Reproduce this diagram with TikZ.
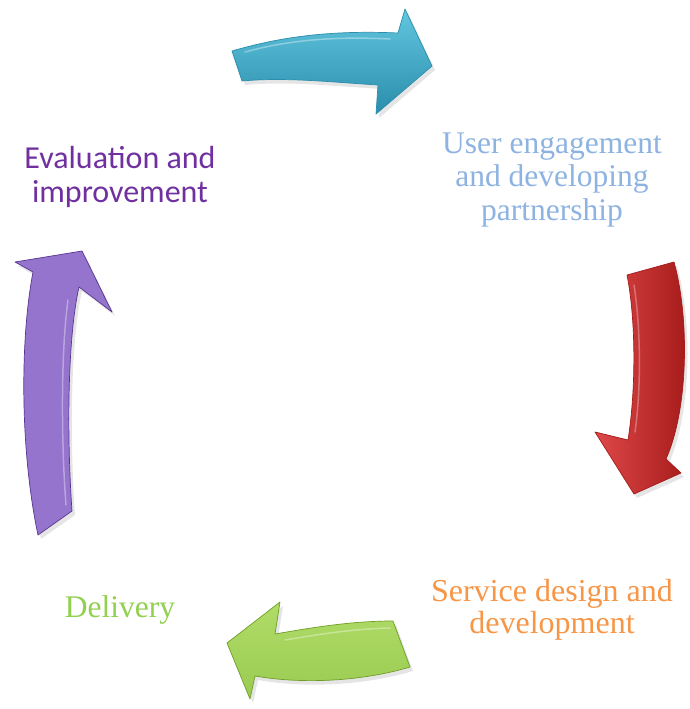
\documentclass[tikz,border=0pt]{standalone}
\usepackage{fontspec}
\setmainfont{Liberation Serif}
\newfontfamily\calib{Carlito}
\definecolor{txtpurple}{HTML}{7030A0}
\definecolor{txtblue}{HTML}{8DB3E2}
\definecolor{txtorange}{HTML}{F79646}
\definecolor{txtgreen}{HTML}{92D050}
\definecolor{bluelt}{HTML}{62C6E0}
\definecolor{bluemd}{HTML}{35A9C9}
\definecolor{bluedk}{HTML}{2A8EAC}
\definecolor{redlt}{HTML}{DE4848}
\definecolor{redmd}{HTML}{CF2020}
\definecolor{reddk}{HTML}{A51A1A}
\definecolor{greenlt}{HTML}{B0DC68}
\definecolor{greenmd}{HTML}{88C232}
\definecolor{greendk}{HTML}{6E9E26}
\definecolor{purplt}{HTML}{9474CC}
\definecolor{purmd}{HTML}{7348B0}
\definecolor{purdk}{HTML}{583690}
\tikzset{
  lbl/.style={align=center, anchor=base, inner sep=0pt},
  shadowpath/.style={fill=black, opacity=0.10},
  arrowedge/.style={line width=0.7pt, line join=round},
}
\begin{document}
\begin{tikzpicture}[x=1pt,y=-1pt]
\useasboundingbox[fill=white] (0,0) rectangle (689,709);

% ---------- blue arrow (top) ----------
\path[shadowpath, shift={(3,4)}]
  (232,51) .. controls (280,37) and (330,30) .. (398,33) -- (405,9) -- (432,66)
  -- (376,114) -- (378,85) .. controls (330,82) and (285,77) .. (242,81) -- cycle;
\path[arrowedge, draw=bluedk, top color=bluelt, middle color=bluemd, bottom color=bluedk]
  (232,51) .. controls (280,37) and (330,30) .. (398,33) -- (405,9) -- (432,66)
  -- (376,114) -- (378,85) .. controls (330,82) and (285,77) .. (242,81) -- cycle;
\draw[white, opacity=0.35, line width=1.5pt, line cap=round]
  (245,52) .. controls (285,41) and (330,36) .. (390,39);

% ---------- red arrow (right) ----------
\path[shadowpath, shift={(3,4)}]
  (627,275) -- (674,262) .. controls (690,320) and (688,410) .. (666,459)
  -- (681,473) -- (634,494) -- (595,432) -- (628,440)
  .. controls (636,390) and (636,320) .. (627,275) -- cycle;
\path[arrowedge, draw=reddk, left color=redlt, middle color=redmd, right color=reddk]
  (627,275) -- (674,262) .. controls (690,320) and (688,410) .. (666,459)
  -- (681,473) -- (634,494) -- (595,432) -- (628,440)
  .. controls (636,390) and (636,320) .. (627,275) -- cycle;
\draw[white, opacity=0.3, line width=1.5pt, line cap=round]
  (634,285) .. controls (641,330) and (641,390) .. (635,432);

% ---------- green arrow (bottom) ----------
\path[shadowpath, shift={(3,4)}]
  (393,621) -- (410,667) .. controls (360,682) and (300,684) .. (255,676)
  -- (250,699) -- (227,643) -- (280,602) -- (275,634)
  .. controls (310,628) and (350,621) .. (393,621) -- cycle;
\path[arrowedge, draw=greendk, top color=greenlt, middle color=greenmd, bottom color=greenmd!85!white]
  (393,621) -- (410,667) .. controls (360,682) and (300,684) .. (255,676)
  -- (250,699) -- (227,643) -- (280,602) -- (275,634)
  .. controls (310,628) and (350,621) .. (393,621) -- cycle;
\draw[white, opacity=0.35, line width=1.5pt, line cap=round]
  (285,640) .. controls (315,635) and (350,629) .. (390,628);

% ---------- purple arrow (left) ----------
\path[shadowpath, shift={(3,4)}]
  (38,535) -- (72,511) .. controls (67,440) and (67,340) .. (79,287)
  -- (112,312) -- (82,251) -- (15,262) -- (33,272)
  .. controls (20,340) and (20,450) .. (38,535) -- cycle;
\path[arrowedge, draw=purdk, left color=purplt, middle color=purmd, right color=purplt]
  (38,535) -- (72,511) .. controls (67,440) and (67,340) .. (79,287)
  -- (112,312) -- (82,251) -- (15,262) -- (33,272)
  .. controls (20,340) and (20,450) .. (38,535) -- cycle;
\draw[white, opacity=0.35, line width=1.5pt, line cap=round]
  (68,300) .. controls (61,350) and (61,440) .. (66,505);

% ---------- labels (anchor = baseline of last line) ----------
\node[lbl, text=txtpurple, font=\calib\fontsize{32}{34}\selectfont] (evaluation) at (120,202)
  {Evaluation and\\improvement};
\node[lbl, text=txtblue, font=\fontsize{31.5}{33.5}\selectfont] (engagement) at (552,220)
  {User engagement\\and developing\\partnership};
\node[lbl, text=txtorange, font=\fontsize{32}{32}\selectfont] (service) at (552,633)
  {Service design and\\development};
\node[lbl, text=txtgreen, font=\fontsize{31.5}{33.5}\selectfont] (delivery) at (120,617) {Delivery};
\end{tikzpicture}
\end{document}
